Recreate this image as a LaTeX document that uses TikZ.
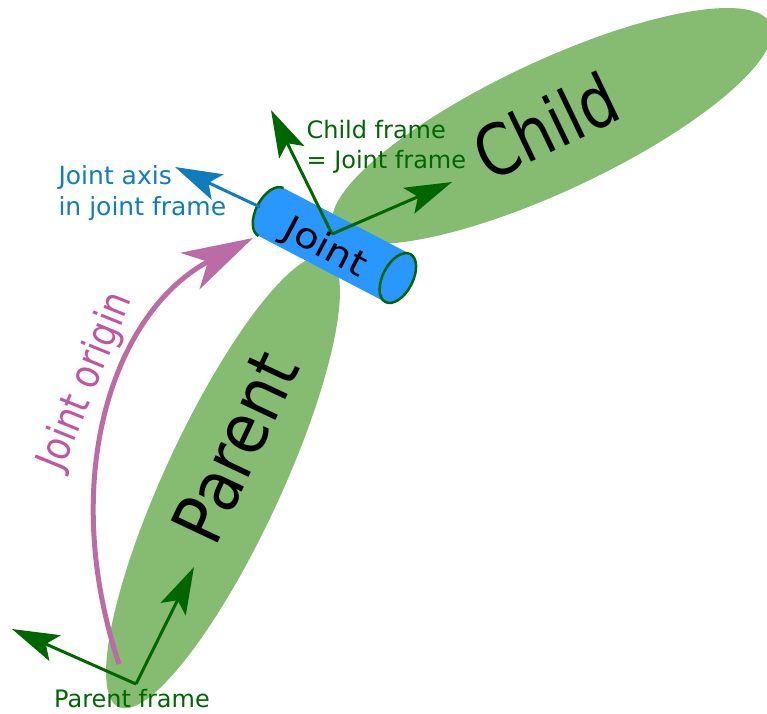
\documentclass[tikz,border=0pt]{standalone}
\usepackage{fontspec}
\setmainfont{DejaVu Sans}
\usetikzlibrary{arrows.meta}
\definecolor{limb}{HTML}{85BC71}
\definecolor{frame}{HTML}{006600}
\definecolor{axis}{HTML}{0F7DBC}
\definecolor{barrel}{HTML}{2A96FF}
\definecolor{origin}{HTML}{BB6BA6}
\definecolor{originlab}{HTML}{C0569F}

\begin{document}
\begin{tikzpicture}[x=1pt,y=-1pt]
	\tikzstyle{frm}=[draw=frame,line width=3pt,-{Stealth[length=47pt,width=28pt,inset=10pt]}];
	\tikzstyle{big}=[anchor=base,inner sep=0pt,font=\fontsize{71}{71}\selectfont];
	\tikzstyle{lab}=[font=\fontsize{24}{30.5}\selectfont,align=left];
	\useasboundingbox (0,0) rectangle (767,713);
	%% limbs
	\fill[limb,rotate around={65.1:(223,482)}] (223,482) ellipse [x radius=248,y radius=58];
	\fill[limb,rotate around={25.1:(552,126)}] (552,126) ellipse [x radius=241,y radius=65];
	%% joint cylinder
	\begin{scope}[shift={(271,212)},rotate=-27.5]
		\fill[barrel] (0,-27) -- (143,-27) arc[start angle=-90,end angle=90,x radius=15,y radius=27] -- (0,27) arc[start angle=90,end angle=270,x radius=15,y radius=27] -- cycle;
		\draw[frame,line width=2.5pt] (0,-27) arc[start angle=-90,end angle=-270,x radius=15,y radius=27];
		\draw[frame,line width=2.5pt,fill=barrel] (143,0) ellipse [x radius=15,y radius=27];
	\end{scope}
	\coordinate (axisfoot) at (260,207);
	\coordinate (axistip) at (175,167);
	\draw[axis,line width=3pt,-{Stealth[length=47pt,width=28pt,inset=10pt]}] (axisfoot) -- (axistip);
	%% frames
	\coordinate (childO) at (332,234);
	\coordinate (childA) at (271,110);
	\coordinate (childB) at (452,182);
	\coordinate (parentO) at (136,684);
	\coordinate (parentA) at (194,567);
	\coordinate (parentB) at (12,629);
	\draw[frm] (childO) -- (childA);
	\draw[frm] (childO) -- (childB);
	\draw[frm] (parentO) -- (parentA);
	\draw[frm] (parentO) -- (parentB);
	%% joint origin
	\coordinate (originfoot) at (119,664);
	\coordinate (origintip) at (253,238);
	\draw[origin,line width=5pt,-{Stealth[length=71pt,width=41pt,inset=20pt]}] (originfoot) .. controls (58,480) and (112,312) .. (origintip);
	%% texts
	\node[big,rotate=64.8,xscale=.88] (parent) at (258,458) {Parent};
	\node[big,rotate=25.6,xscale=.84] (child) at (557,150) {Child};
	\node[rotate=-28,xscale=1.15,anchor=base,inner sep=0pt,font=\fontsize{35}{35}\selectfont] (joint) at (320,257) {Joint};
	\node[rotate=68,xscale=.85,anchor=base,inner sep=0pt,text=originlab,font=\fontsize{41}{41}\selectfont] (jointorigin) at (97,386) {Joint origin};
	\node[lab,text=axis,anchor=west,font=\fontsize{25}{30.5}\selectfont] (axislabel) at (55,193) {Joint axis\\in joint frame};
	\node[lab,text=frame,anchor=west] (childlabel) at (303,147) {Child frame\\= Joint frame};
	\node[lab,text=frame] (parentlabel) at (132,699) {Parent frame};
\end{tikzpicture}
\end{document}
